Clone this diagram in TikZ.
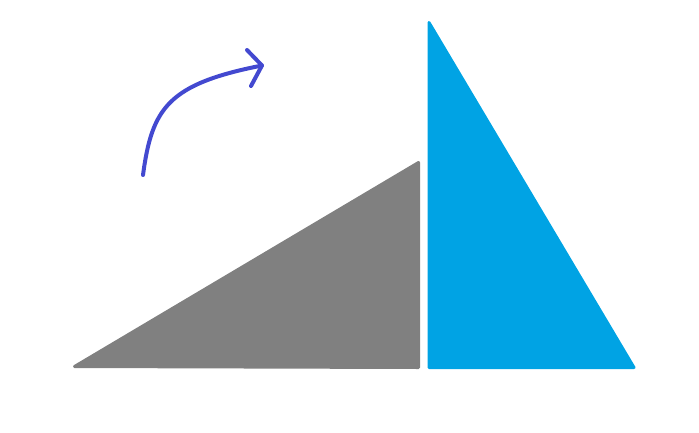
\documentclass[tikz,border=0pt]{standalone}
\definecolor{grayfill}{HTML}{808080}
\definecolor{bluefill}{HTML}{00A3E4}
\definecolor{arrowblue}{HTML}{4349D0}
\begin{document}
\begin{tikzpicture}[x=1pt,y=-1pt,
  tri/.style={line width=3pt,line join=round},
  curvearrow/.style={draw=arrowblue,line width=4pt,line cap=round,line join=round}]
\useasboundingbox (0,0) rectangle (699,432);
% gray triangle
\filldraw[tri,draw=grayfill,fill=grayfill] (74.5,366.5) -- (418.5,162.5) -- (418.5,367.5) -- cycle;
% blue triangle
\filldraw[tri,draw=bluefill,fill=bluefill] (429,22.5) -- (429,367.5) -- (634,367.5) -- cycle;
% curved arrow
\coordinate (s) at (143,175);
\coordinate (e) at (262,65.5);
\draw[curvearrow] (s) .. controls (152,108) and (168,84) .. (e);
\draw[curvearrow] (247,50) -- (e) -- (251,86);
\end{tikzpicture}
\end{document}
